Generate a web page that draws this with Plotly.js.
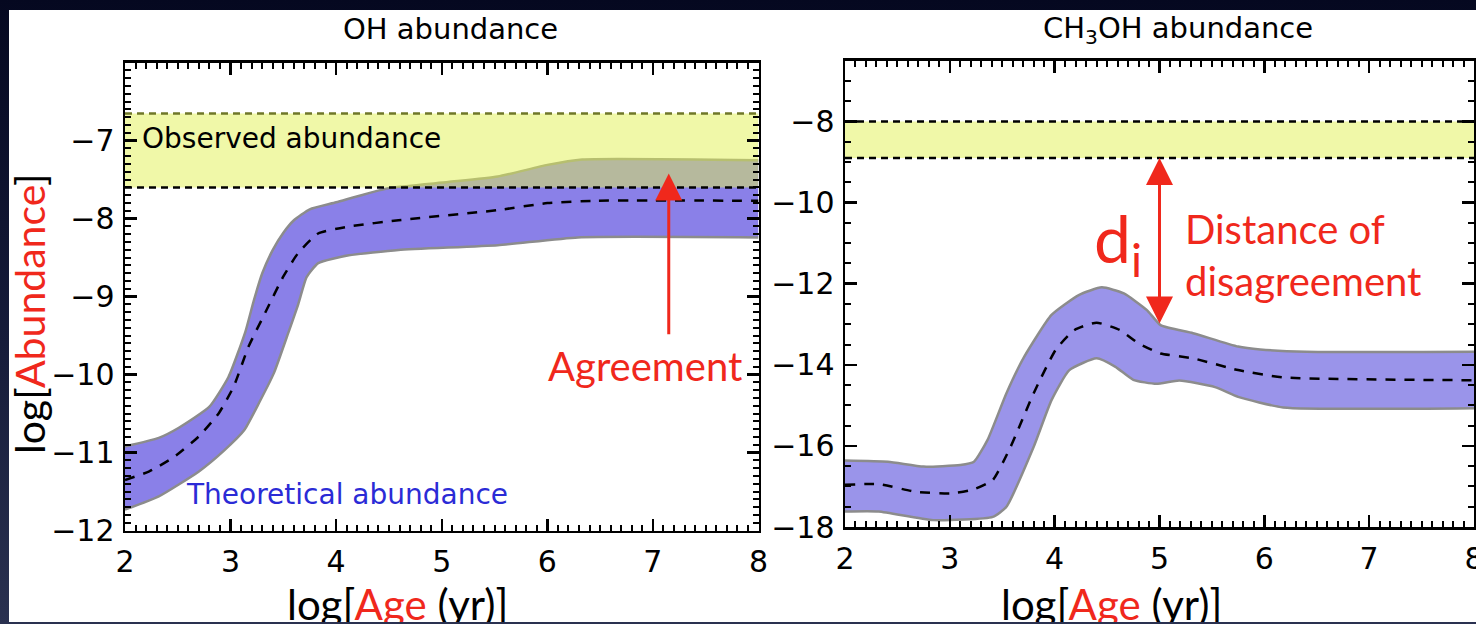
<!DOCTYPE html>
<html><head><meta charset="utf-8">
<script src="https://cdn.plot.ly/plotly-3.0.1.min.js"></script>
<style>
html,body{margin:0;padding:0;width:1476px;height:624px;overflow:hidden;
background:linear-gradient(to bottom,#050820 0%,#161c3a 55%,#2a3150 100%);}
#chart{position:absolute;left:9px;top:10px;width:1467px;height:612px;background:#fff;}
</style></head><body><div id="chart"></div>
<script>
// ---------- data ----------
const ageTicks = [2, 3, 4, 5, 6, 7, 8];
const ohTicks = [-12, -11, -10, -9, -8, -7];
const ch3ohTicks = [-18, -16, -14, -12, -10, -8];

const ohObserved = [-7.6, -6.65];
const ch3ohObserved = [-8.9, -8.0];

const ohUpperAge   = [2.0, 2.32, 2.51, 2.80, 2.98, 3.14, 3.22, 3.30, 3.40, 3.50, 3.60, 3.75, 4.0, 4.49, 5.06, 5.53, 6.0, 6.33, 8.0];
const ohUpperAbund = [-10.92, -10.81, -10.68, -10.41, -10.03, -9.45, -9.05, -8.70, -8.40, -8.18, -8.02, -7.88, -7.79, -7.61, -7.53, -7.46, -7.31, -7.24, -7.25];
const ohLowerAge   = [2.0, 2.32, 2.70, 2.94, 3.13, 3.27, 3.41, 3.55, 3.64, 3.72, 3.83, 4.12, 4.59, 5.53, 6.29, 8.0];
const ohLowerAbund = [-11.73, -11.56, -11.24, -10.97, -10.71, -10.36, -9.98, -9.45, -9.10, -8.75, -8.57, -8.47, -8.40, -8.34, -8.24, -8.24];
const ohMedianAge   = [2.0, 2.23, 2.47, 2.70, 2.89, 3.03, 3.17, 3.33, 3.50, 3.64, 3.83, 4.12, 4.59, 5.53, 6.0, 6.47, 8.0];
const ohMedianAbund = [-11.35, -11.24, -11.05, -10.79, -10.49, -10.15, -9.64, -9.20, -8.74, -8.44, -8.19, -8.10, -8.02, -7.89, -7.80, -7.77, -7.77];

const chUpperAge   = [2.0, 2.41, 2.75, 3.10, 3.23, 3.36, 3.54, 3.71, 3.97, 4.23, 4.45, 4.66, 4.88, 5.01, 5.32, 5.75, 5.96, 6.40, 8.0];
const chUpperAbund = [-16.36, -16.39, -16.51, -16.47, -16.39, -15.85, -14.70, -13.80, -12.77, -12.28, -12.09, -12.24, -12.65, -13.02, -13.22, -13.55, -13.62, -13.68, -13.68];
const chLowerAge   = [2.0, 2.32, 2.84, 3.41, 3.54, 3.80, 3.97, 4.14, 4.40, 4.58, 4.75, 4.97, 5.19, 5.53, 5.75, 6.18, 8.0];
const chLowerAbund = [-17.62, -17.62, -17.83, -17.75, -17.50, -16.02, -14.87, -14.13, -13.84, -14.05, -14.37, -14.47, -14.39, -14.55, -14.79, -15.05, -15.07];
const chMedianAge   = [2.0, 2.32, 2.67, 3.01, 3.23, 3.41, 3.58, 3.80, 4.01, 4.19, 4.40, 4.62, 4.80, 5.01, 5.32, 5.75, 6.18, 8.0];
const chMedianAbund = [-16.96, -16.94, -17.13, -17.17, -17.07, -16.84, -16.02, -14.70, -13.63, -13.14, -12.96, -13.14, -13.47, -13.72, -13.84, -14.13, -14.31, -14.38];

const agreementArrow = {age: 7.15, from: -9.5, to: -7.42};
const disagreementArrow = {age: 5.0, from: -13.02, to: -8.9};

// ---------- styles ----------
const RED = '#f0281c';
const OUTLINE = '#8c8c8c';
const GILL = 'Lato, "Open Sans", sans-serif';
const HELV = '"DejaVu Sans", "Liberation Sans", sans-serif';
const W = 1467, H = 612;
const px = x => (x - 9) / W;
const py = y => 1 - (y - 10) / H;

function band(lowX, lowY, upX, upY, medX, medY, fill, xa, ya) {
  const ln = {color: OUTLINE, width: 2.5, shape: 'spline', smoothing: 0.5};
  return [
    {x: lowX, y: lowY, mode: 'lines', line: ln, xaxis: xa, yaxis: ya, hoverinfo: 'skip'},
    {x: upX, y: upY, mode: 'lines', line: ln, fill: 'tonexty', fillcolor: fill, xaxis: xa, yaxis: ya, hoverinfo: 'skip'},
    {x: medX, y: medY, mode: 'lines', line: {color: '#000', width: 2.5, dash: '10px,9px', shape: 'spline', smoothing: 0.5}, xaxis: xa, yaxis: ya, hoverinfo: 'skip'}
  ];
}
function observed(obs, xa, ya, topColor) {
  const xs = [ageTicks[0], ageTicks[ageTicks.length - 1]];
  return [
    {x: xs, y: [obs[0], obs[0]], mode: 'lines', line: {width: 0}, xaxis: xa, yaxis: ya, hoverinfo: 'skip'},
    {x: xs, y: [obs[1], obs[1]], mode: 'lines', line: {width: 0}, fill: 'tonexty', fillcolor: 'rgba(225,241,81,0.5)', xaxis: xa, yaxis: ya, hoverinfo: 'skip'},
    {x: xs, y: [obs[1], obs[1]], mode: 'lines', line: {color: topColor, width: 2.5, dash: '7px,5px'}, xaxis: xa, yaxis: ya, hoverinfo: 'skip'},
    {x: xs, y: [obs[0], obs[0]], mode: 'lines', line: {color: '#000', width: 2.5, dash: '7px,5px'}, xaxis: xa, yaxis: ya, hoverinfo: 'skip'}
  ];
}

const data = [].concat(
  band(ohLowerAge, ohLowerAbund, ohUpperAge, ohUpperAbund, ohMedianAge, ohMedianAbund, '#8a80e8', 'x', 'y'),
  observed(ohObserved, 'x', 'y', '#6f7728'),
  band(chLowerAge, chLowerAbund, chUpperAge, chUpperAbund, chMedianAge, chMedianAbund, '#9a94ea', 'x2', 'y2'),
  observed(ch3ohObserved, 'x2', 'y2', '#000')
);

function axis(range, domain, tickvals, minorDtick, standoff, anchor) {
  return {
    range: range, domain: domain, anchor: anchor, tickvals: tickvals,
    showline: true, linecolor: '#000', linewidth: 2.5, mirror: 'allticks',
    ticks: 'inside', ticklen: 12, tickwidth: 2.5, tickcolor: '#000',
    minor: {dtick: minorDtick, tick0: range[0], ticks: 'inside', ticklen: 6, tickwidth: 2, tickcolor: '#000'},
    showgrid: false, zeroline: false, fixedrange: true,
    ticklabelstandoff: standoff, ticklabeloverflow: 'allow',
    tickfont: {family: HELV, size: 30, color: '#000'}
  };
}

const layout = {
  width: W, height: H,
  margin: {l: 0, r: 0, t: 0, b: 0},
  paper_bgcolor: '#ffffff', plot_bgcolor: 'rgba(0,0,0,0)',
  showlegend: false,
  font: {family: HELV, color: '#000'},
  xaxis: axis([2, 8], [116 / W, 749.5 / W], ageTicks, 0.1, 3, 'y'),
  yaxis: axis([-12, -6], [0.1492, 0.9139], ohTicks, 0.1, 2, 'x'),
  xaxis2: axis([2, 8], [836 / W, 1465 / W], ageTicks, 0.1, 3, 'y2'),
  yaxis2: axis([-18, -6.5], [0.1552, 0.9172], ch3ohTicks, 0.5, 2, 'x2'),
  annotations: [
    {xref: 'paper', yref: 'paper', x: px(450), y: py(29), text: 'OH abundance', showarrow: false,
     font: {family: HELV, size: 29, color: '#000'}, xanchor: 'center', yanchor: 'middle'},
    {xref: 'paper', yref: 'paper', x: px(1178), y: py(30), text: 'CH<sub>3</sub>OH abundance', showarrow: false,
     font: {family: HELV, size: 29, color: '#000'}, xanchor: 'center', yanchor: 'middle'},
    {xref: 'paper', yref: 'paper', x: px(140), y: py(138), text: 'Observed abundance', showarrow: false,
     font: {family: HELV, size: 28, color: '#000'}, xanchor: 'left', yanchor: 'middle'},
    {xref: 'paper', yref: 'paper', x: px(184), y: py(494), text: 'Theoretical abundance', showarrow: false,
     font: {family: HELV, size: 28, color: '#2b2bd6'}, xanchor: 'left', yanchor: 'middle'},
    {xref: 'paper', yref: 'paper', x: px(645), y: py(366), text: 'Agreement', showarrow: false,
     font: {family: GILL, size: 40, color: RED}, xanchor: 'center', yanchor: 'middle'},
    {xref: 'paper', yref: 'paper', x: px(1118), y: py(242), text: 'd<sub>i</sub>', showarrow: false,
     font: {family: GILL, size: 66, color: RED}, xanchor: 'center', yanchor: 'middle'},
    {xref: 'paper', yref: 'paper', x: px(1183), y: py(255), text: 'Distance of<br>disagreement', showarrow: false,
     align: 'left', font: {family: GILL, size: 40, color: RED}, xanchor: 'left', yanchor: 'middle'},
    {xref: 'paper', yref: 'paper', x: px(397), y: py(604), text: 'log[<span style="color:' + RED + '">Age</span> (yr)]', showarrow: false,
     font: {family: GILL, size: 42, color: '#000'}, xanchor: 'center', yanchor: 'middle'},
    {xref: 'paper', yref: 'paper', x: px(1111), y: py(604), text: 'log[<span style="color:' + RED + '">Age</span> (yr)]', showarrow: false,
     font: {family: GILL, size: 42, color: '#000'}, xanchor: 'center', yanchor: 'middle'},
    {xref: 'paper', yref: 'paper', x: px(29), y: py(314), text: 'log[<span style="color:' + RED + '">Abundance</span>]', showarrow: false,
     textangle: -90, font: {family: GILL, size: 41, color: '#000'}, xanchor: 'center', yanchor: 'middle'},
    {xref: 'x', yref: 'y', axref: 'x', ayref: 'y', x: agreementArrow.age, y: agreementArrow.to,
     ax: agreementArrow.age, ay: agreementArrow.from, text: '', showarrow: true,
     arrowhead: 2, arrowsize: 1.8, arrowwidth: 3, arrowcolor: RED, standoff: 0, startstandoff: 0},
    {xref: 'x2', yref: 'y2', axref: 'x2', ayref: 'y2', x: disagreementArrow.age, y: disagreementArrow.to,
     ax: disagreementArrow.age, ay: disagreementArrow.from, text: '', showarrow: true, arrowside: 'end+start',
     arrowhead: 2, startarrowhead: 2, arrowsize: 1.8, startarrowsize: 1.8, arrowwidth: 3, arrowcolor: RED, standoff: 0, startstandoff: 0}
  ]
};

Plotly.newPlot('chart', data, layout, {staticPlot: true, displayModeBar: false});
</script></body></html>
